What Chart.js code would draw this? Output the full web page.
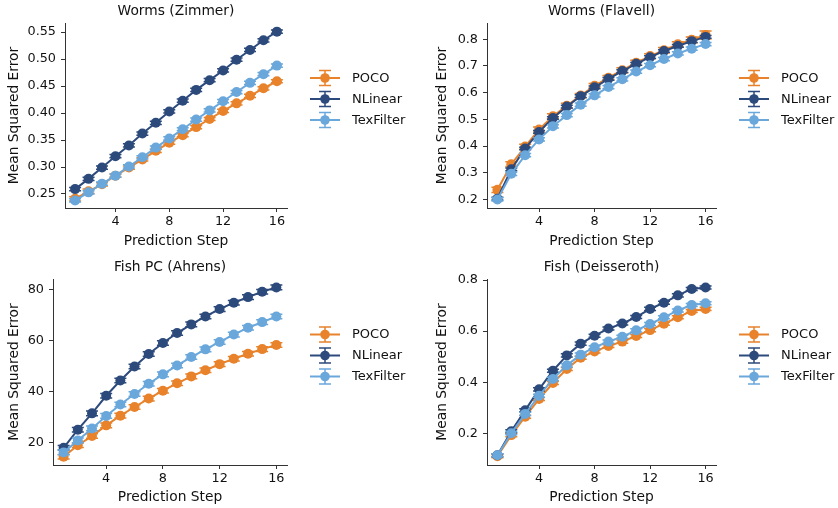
<!DOCTYPE html>
<html>
<head>
<meta charset="utf-8">
<script src="https://cdn.jsdelivr.net/npm/chart.js@4.4.1/dist/chart.umd.min.js"></script>
<style>
  body { margin: 0; background: #fff; }
  #wrap { position: relative; width: 838px; height: 508px; }
  canvas { position: absolute; }
</style>
</head>
<body>
<div id="wrap">
  <canvas id="c1" width="419" height="254" style="left:0;top:0"></canvas>
  <canvas id="c2" width="419" height="254" style="left:419px;top:0"></canvas>
  <canvas id="c3" width="419" height="254" style="left:0;top:254px"></canvas>
  <canvas id="c4" width="419" height="254" style="left:419px;top:254px"></canvas>
</div>
<script>
const steps = [1, 2, 3, 4, 5, 6, 7, 8, 9, 10, 11, 12, 13, 14, 15, 16]
const xTicks = [4, 8, 12, 16]
const models = ['POCO', 'NLinear', 'TexFilter']
const colors = ['#E8832C', '#2C4A7B', '#6AA7DB']

// Worms (Zimmer)
const zimmerPoco = [0.241, 0.255, 0.268, 0.284, 0.299, 0.314, 0.330, 0.345, 0.359, 0.374, 0.389, 0.404, 0.418, 0.432, 0.446, 0.459]
const zimmerNLinear = [0.259, 0.278, 0.299, 0.320, 0.340, 0.362, 0.382, 0.403, 0.423, 0.443, 0.461, 0.479, 0.499, 0.517, 0.535, 0.551]
const zimmerTexFilter = [0.238, 0.253, 0.269, 0.284, 0.301, 0.318, 0.336, 0.353, 0.370, 0.388, 0.405, 0.422, 0.439, 0.456, 0.472, 0.488]
const zimmerPocoErr = [0.004, 0.004, 0.003, 0.003, 0.003, 0.003, 0.003, 0.003, 0.003, 0.003, 0.003, 0.003, 0.003, 0.003, 0.003, 0.003]
const zimmerNLinearErr = [0.003, 0.003, 0.003, 0.003, 0.003, 0.003, 0.003, 0.003, 0.003, 0.003, 0.003, 0.003, 0.003, 0.003, 0.003, 0.003]
const zimmerTexFilterErr = [0.003, 0.003, 0.003, 0.003, 0.003, 0.003, 0.003, 0.003, 0.003, 0.003, 0.003, 0.003, 0.003, 0.003, 0.003, 0.003]
const zimmerTicks = [0.25, 0.30, 0.35, 0.40, 0.45, 0.50, 0.55]

// Worms (Flavell)
const flavellPoco = [0.236, 0.332, 0.398, 0.462, 0.512, 0.551, 0.589, 0.626, 0.656, 0.684, 0.712, 0.737, 0.759, 0.781, 0.798, 0.816]
const flavellNLinear = [0.203, 0.313, 0.391, 0.453, 0.505, 0.548, 0.587, 0.620, 0.652, 0.681, 0.708, 0.733, 0.756, 0.775, 0.793, 0.809]
const flavellTexFilter = [0.200, 0.296, 0.366, 0.425, 0.474, 0.516, 0.555, 0.590, 0.621, 0.650, 0.679, 0.703, 0.726, 0.747, 0.765, 0.782]
const flavellPocoErr = [0.010, 0.009, 0.009, 0.009, 0.009, 0.009, 0.008, 0.008, 0.008, 0.009, 0.009, 0.009, 0.010, 0.010, 0.011, 0.015]
const flavellNLinearErr = [0.005, 0.005, 0.005, 0.005, 0.005, 0.005, 0.005, 0.005, 0.005, 0.005, 0.005, 0.005, 0.005, 0.005, 0.005, 0.005]
const flavellTexFilterErr = [0.006, 0.006, 0.006, 0.006, 0.006, 0.006, 0.006, 0.006, 0.006, 0.006, 0.006, 0.006, 0.006, 0.006, 0.006, 0.006]
const flavellTicks = [0.2, 0.3, 0.4, 0.5, 0.6, 0.7, 0.8]

// Fish PC (Ahrens)
const ahrensPoco = [14.5, 19.0, 22.6, 26.8, 30.6, 34.0, 37.3, 40.4, 43.3, 46.0, 48.4, 50.8, 52.9, 54.9, 56.7, 58.3]
const ahrensNLinear = [18.0, 25.1, 31.5, 38.4, 44.4, 49.9, 54.8, 59.1, 63.0, 66.4, 69.5, 72.4, 74.9, 77.1, 79.2, 80.9]
const ahrensTexFilter = [16.2, 20.9, 25.6, 30.5, 35.0, 39.1, 43.1, 46.8, 50.3, 53.6, 56.6, 59.5, 62.4, 65.1, 67.3, 69.5]
const ahrensPocoErr = [0.9, 0.9, 0.9, 0.9, 0.9, 0.9, 0.9, 0.9, 0.9, 0.9, 0.9, 0.9, 0.9, 0.9, 0.9, 0.9]
const ahrensNLinearErr = [0.9, 0.9, 0.9, 0.9, 0.9, 0.9, 0.9, 0.9, 0.9, 0.9, 0.9, 0.9, 0.9, 0.9, 0.9, 0.9]
const ahrensTexFilterErr = [0.9, 0.9, 0.9, 0.9, 0.9, 0.9, 0.9, 0.9, 0.9, 0.9, 0.9, 0.9, 0.9, 0.9, 0.9, 0.9]
const ahrensTicks = [20, 40, 60, 80]

// Fish (Deisseroth)
const deisserothPoco = [0.110, 0.193, 0.265, 0.334, 0.397, 0.452, 0.496, 0.520, 0.542, 0.559, 0.581, 0.604, 0.629, 0.654, 0.679, 0.687]
const deisserothNLinear = [0.114, 0.208, 0.290, 0.372, 0.445, 0.505, 0.551, 0.582, 0.610, 0.630, 0.655, 0.687, 0.711, 0.740, 0.765, 0.771]
const deisserothTexFilter = [0.114, 0.200, 0.276, 0.347, 0.413, 0.466, 0.508, 0.537, 0.559, 0.578, 0.603, 0.628, 0.654, 0.681, 0.702, 0.709]
const deisserothPocoErr = [0.006, 0.006, 0.006, 0.006, 0.006, 0.006, 0.006, 0.006, 0.006, 0.006, 0.006, 0.006, 0.006, 0.006, 0.006, 0.006]
const deisserothNLinearErr = [0.006, 0.006, 0.006, 0.006, 0.006, 0.006, 0.006, 0.006, 0.006, 0.006, 0.006, 0.006, 0.006, 0.006, 0.006, 0.006]
const deisserothTexFilterErr = [0.006, 0.006, 0.006, 0.006, 0.006, 0.006, 0.006, 0.006, 0.006, 0.006, 0.006, 0.006, 0.006, 0.006, 0.006, 0.006]
const deisserothTicks = [0.2, 0.4, 0.6, 0.8]

const FONT = 'DejaVu Sans, Verdana, sans-serif'
const TEXT = '#111111'
const AXIS = '#333333'

// vertical error bars with caps, drawn through the chart's scales
const errorBars = {
  id: 'errorBars',
  afterDatasetDraw(chart, args) {
    const ds = chart.data.datasets[args.index]
    if (!ds.err) return
    const ctx = chart.ctx
    const xs = chart.scales.x, ys = chart.scales.y
    ctx.save()
    ctx.strokeStyle = ds.borderColor
    ctx.lineWidth = 1.5
    ds.data.forEach((p, i) => {
      const x = xs.getPixelForValue(p.x)
      const y1 = ys.getPixelForValue(p.y + ds.err[i])
      const y2 = ys.getPixelForValue(p.y - ds.err[i])
      ctx.beginPath()
      ctx.moveTo(x, y1); ctx.lineTo(x, y2)
      ctx.moveTo(x - 6, y1); ctx.lineTo(x + 6, y1)
      ctx.moveTo(x - 6, y2); ctx.lineTo(x + 6, y2)
      ctx.stroke()
    })
    ctx.restore()
  }
}

// matplotlib style legend with errorbar handles, right of the axes
const sideLegend = {
  id: 'sideLegend',
  afterDraw(chart) {
    const ctx = chart.ctx
    const a = chart.chartArea
    const mid = (a.top + a.bottom) / 2 - 16.5
    ctx.save()
    chart.data.datasets.forEach((ds, i) => {
      const y = mid + (i - 1) * 21
      const x0 = a.right + 23, x1 = a.right + 53, xc = (x0 + x1) / 2
      ctx.strokeStyle = ds.borderColor
      ctx.fillStyle = ds.borderColor
      ctx.lineWidth = 2
      ctx.beginPath(); ctx.moveTo(x0, y); ctx.lineTo(x1, y); ctx.stroke()
      ctx.lineWidth = 1.5
      ctx.beginPath()
      ctx.moveTo(xc, y - 7.5); ctx.lineTo(xc, y + 7.5)
      ctx.moveTo(xc - 6, y - 7.5); ctx.lineTo(xc + 6, y - 7.5)
      ctx.moveTo(xc - 6, y + 7.5); ctx.lineTo(xc + 6, y + 7.5)
      ctx.stroke()
      ctx.beginPath(); ctx.arc(xc, y, 4.8, 0, Math.PI * 2); ctx.fill()
      ctx.fillStyle = TEXT
      ctx.font = '13px ' + FONT
      ctx.textBaseline = 'middle'
      ctx.fillText(ds.label, a.right + 65, y + 0.5)
    })
    ctx.restore()
  }
}

function makePanel(id, title, series, errs, yMin, yMax, yTicks, digits, box) {
  const datasets = models.map((m, i) => ({
    label: m,
    data: steps.map((s, j) => ({ x: s, y: series[i][j] })),
    err: errs[i],
    borderColor: colors[i],
    backgroundColor: colors[i],
    borderWidth: 2,
    pointRadius: 5,
    pointBorderWidth: 0,
    order: 3 - i
  }))
  return new Chart(document.getElementById(id), {
    type: 'line',
    data: { datasets },
    plugins: [errorBars, sideLegend],
    options: {
      responsive: false,
      animation: false,
      events: [],
      layout: { autoPadding: false, padding: { left: 0, right: 419 - box.right, top: 0, bottom: 0 } },
      plugins: {
        legend: { display: false },
        tooltip: { enabled: false },
        title: {
          display: true, text: title, fullSize: false, color: TEXT,
          font: { family: FONT, size: 13.8, weight: 'normal' },
          padding: { top: box.titleTop, bottom: box.top - 16.56 - box.titleTop }
        }
      },
      scales: {
        x: {
          type: 'linear', min: 0.25, max: 16.75,
          afterBuildTicks: s => { s.ticks = xTicks.map(v => ({ value: v })) },
          afterFit: s => { s.height = 254 - box.bottom },
          grid: { display: true, drawOnChartArea: false, drawTicks: true, tickLength: 4, color: AXIS, tickWidth: 1 },
          border: { display: true, color: AXIS, width: 1 },
          ticks: { color: TEXT, padding: 2, maxRotation: 0, font: { family: FONT, size: 12.8 } },
          title: { display: true, text: 'Prediction Step', color: TEXT, padding: { top: 0, bottom: box.xTitlePad }, font: { family: FONT, size: 13.8 } }
        },
        y: {
          type: 'linear', min: yMin, max: yMax,
          afterBuildTicks: s => { s.ticks = yTicks.map(v => ({ value: v })) },
          afterFit: s => { s.width = box.left },
          grid: { display: true, drawOnChartArea: false, drawTicks: true, tickLength: 4, color: AXIS, tickWidth: 1 },
          border: { display: true, color: AXIS, width: 1 },
          ticks: { color: TEXT, padding: 5, font: { family: FONT, size: 12.8 }, callback: v => v.toFixed(digits) },
          title: { display: true, text: 'Mean Squared Error', color: TEXT, padding: { top: box.yTitlePad, bottom: 0 }, font: { family: FONT, size: 13.8 } }
        }
      }
    }
  })
}

makePanel('c1', 'Worms (Zimmer)',
  [zimmerPoco, zimmerNLinear, zimmerTexFilter],
  [zimmerPocoErr, zimmerNLinearErr, zimmerTexFilterErr],
  0.224, 0.567, zimmerTicks, 2,
  { left: 65, right: 287, top: 23, bottom: 208, titleTop: 3.2, xTitlePad: 4.7, yTitlePad: 5.7 })

makePanel('c2', 'Worms (Flavell)',
  [flavellPoco, flavellNLinear, flavellTexFilter],
  [flavellPocoErr, flavellNLinearErr, flavellTexFilterErr],
  0.168, 0.861, flavellTicks, 1,
  { left: 68, right: 297, top: 23, bottom: 208, titleTop: 3.2, xTitlePad: 4.7, yTitlePad: 14.7 })

makePanel('c3', 'Fish PC (Ahrens)',
  [ahrensPoco, ahrensNLinear, ahrensTexFilter],
  [ahrensPocoErr, ahrensNLinearErr, ahrensTexFilterErr],
  11.25, 84.2, ahrensTicks, 0,
  { left: 53, right: 287, top: 25, bottom: 211, titleTop: 4.7, xTitlePad: 2.7, yTitlePad: 5.7 })

makePanel('c4', 'Fish (Deisseroth)',
  [deisserothPoco, deisserothNLinear, deisserothTexFilter],
  [deisserothPocoErr, deisserothNLinearErr, deisserothTexFilterErr],
  0.076, 0.804, deisserothTicks, 1,
  { left: 68, right: 297, top: 25, bottom: 211, titleTop: 4.7, xTitlePad: 2.7, yTitlePad: 14.7 })
</script>
</body>
</html>
